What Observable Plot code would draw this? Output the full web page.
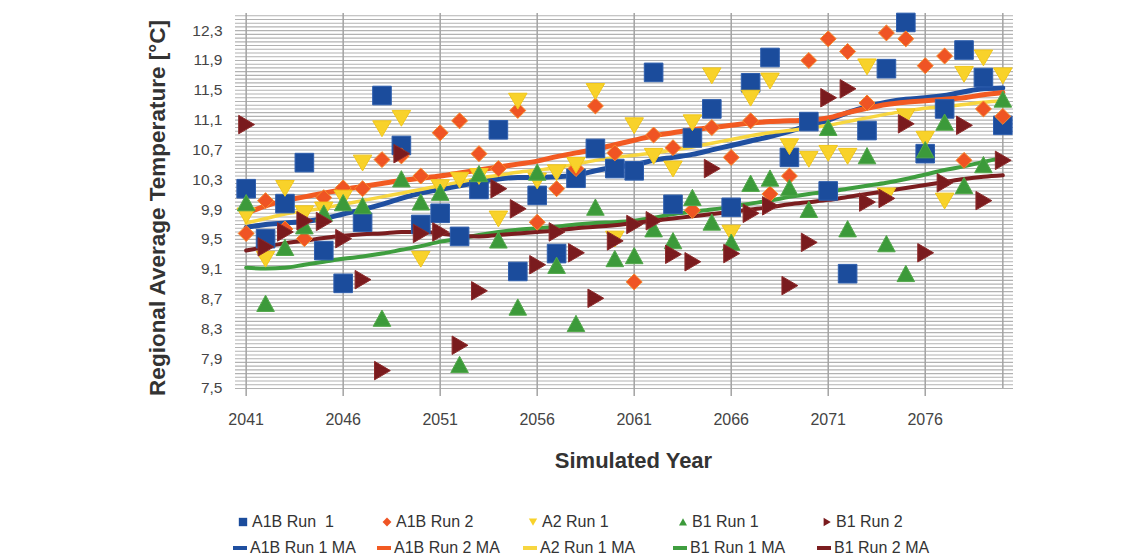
<!DOCTYPE html>
<html><head><meta charset="utf-8">
<script src="https://cdn.jsdelivr.net/npm/d3@7"></script>
<script src="https://cdn.jsdelivr.net/npm/@observablehq/plot@0.6"></script>
<style>
body{margin:0;background:#fff;font-family:"Liberation Sans",Arial,sans-serif;}
#wrap{position:relative;width:1138px;height:559px;overflow:hidden;background:#fff}
#chart{position:absolute;left:0;top:0}
#legend{position:absolute;left:0;top:0;width:1138px;height:559px;pointer-events:none;font-size:16px;color:#333}
.item{position:absolute;display:flex;align-items:center;white-space:pre;height:20px}
.item svg{margin-right:2px}
</style></head><body><div id="wrap"><div id="chart"></div><div id="legend"></div></div>
<script>
const years = [2041,2042,2043,2044,2045,2046,2047,2048,2049,2050,2051,2052,2053,2054,2055,2056,2057,2058,2059,2060,2061,2062,2063,2064,2065,2066,2067,2068,2069,2070,2071,2072,2073,2074,2075,2076,2077,2078,2079,2080];
const xTickYears = [2041,2046,2051,2056,2061,2066,2071,2076];
const yTickValues = [7.5,7.9,8.3,8.7,9.1,9.5,9.9,10.3,10.7,11.1,11.5,11.9,12.3];

const a1bRun1 = [10.18,9.51,9.98,10.53,9.35,8.91,9.73,11.43,10.76,9.70,9.85,9.54,10.17,10.97,9.07,10.09,9.31,10.32,10.72,10.45,10.42,11.74,9.97,10.86,11.25,9.93,11.60,11.94,10.60,11.08,10.15,9.04,10.96,11.79,12.41,10.65,11.25,12.04,11.67,11.03];
const a1bRun2 = [9.58,10.02,9.64,9.51,10.06,10.19,10.18,10.57,10.62,10.35,10.93,11.09,10.65,10.45,11.23,9.73,10.18,10.45,11.29,10.66,8.93,10.9,10.73,9.89,11.0,10.6,11.09,10.11,10.35,11.9,12.19,12.02,11.33,12.27,12.19,11.83,11.96,10.56,11.25,11.15];
const a2Run1 = [9.82,9.24,10.19,9.85,9.9,10.06,10.53,10.99,11.13,9.24,10.2,10.3,10.35,9.78,11.36,10.29,10.4,10.5,11.49,9.51,11.03,10.62,10.45,11.07,11.7,9.59,11.4,11.63,10.75,10.58,10.66,10.62,11.82,10.09,11.15,10.85,10.02,11.72,11.94,11.7];
const b1Run1 = [9.99,8.64,9.39,9.68,9.85,9.99,9.95,8.44,10.31,10.0,10.13,7.82,10.38,9.49,8.59,10.4,9.15,8.37,9.93,9.24,9.28,9.64,9.48,10.06,9.73,9.46,10.25,10.32,10.19,9.9,11.0,9.64,10.62,9.44,9.04,10.7,11.07,10.22,10.5,11.38];
const b1Run2 = [11.04,9.4,9.6,9.75,9.74,9.51,8.96,7.74,10.65,9.58,9.6,8.08,8.81,10.18,9.91,9.16,9.6,9.32,8.71,9.48,9.7,9.75,9.3,9.2,10.45,9.31,9.85,9.95,8.88,9.46,11.4,11.52,10.0,10.05,11.05,9.32,10.26,11.03,10.02,10.56];

const a1bRun1MA = [9.66,9.70,9.72,9.74,9.78,9.84,9.90,9.97,10.05,10.12,10.17,10.22,10.27,10.31,10.33,10.33,10.34,10.36,10.42,10.47,10.50,10.56,10.60,10.64,10.70,10.76,10.82,10.88,10.95,11.03,11.10,11.20,11.28,11.34,11.38,11.40,11.43,11.48,11.52,11.53];
const a1bRun2MA = [9.85,9.95,10.02,10.07,10.12,10.17,10.21,10.25,10.29,10.32,10.35,10.39,10.43,10.47,10.51,10.55,10.61,10.66,10.71,10.77,10.83,10.89,10.93,10.97,11.0,11.03,11.06,11.08,11.09,11.1,11.13,11.2,11.26,11.31,11.34,11.36,11.38,11.4,11.44,11.47];
const a2Run1MA = [9.72,9.78,9.84,9.88,9.92,9.97,10.02,10.07,10.12,10.17,10.22,10.27,10.32,10.36,10.4,10.43,10.46,10.51,10.56,10.6,10.63,10.66,10.7,10.74,10.79,10.84,10.89,10.93,10.96,10.99,11.03,11.08,11.13,11.18,11.22,11.26,11.28,11.31,11.34,11.36];
const b1Run1MA = [9.12,9.11,9.12,9.16,9.2,9.24,9.27,9.31,9.36,9.41,9.47,9.51,9.56,9.6,9.63,9.65,9.67,9.7,9.72,9.73,9.75,9.79,9.84,9.87,9.9,9.94,9.98,10.02,10.07,10.11,10.14,10.18,10.22,10.26,10.31,10.37,10.43,10.48,10.54,10.59];
const b1Run2MA = [9.35,9.4,9.45,9.48,9.52,9.55,9.57,9.58,9.6,9.6,9.58,9.55,9.54,9.56,9.58,9.6,9.62,9.65,9.67,9.69,9.72,9.75,9.78,9.81,9.84,9.87,9.9,9.93,9.97,10.0,10.03,10.07,10.11,10.15,10.19,10.23,10.27,10.31,10.34,10.36];

// custom marker shapes (d3 symbol-type objects)
const triDown = {draw(c, size){const r=Math.sqrt(size/Math.PI);c.moveTo(-1.05*r,-0.85*r);c.lineTo(1.05*r,-0.85*r);c.lineTo(0,0.95*r);c.closePath();}};
const triUp = {draw(c, size){const r=Math.sqrt(size/Math.PI);c.moveTo(-1.0*r,0.9*r);c.lineTo(1.0*r,0.9*r);c.lineTo(0,-0.95*r);c.closePath();}};
const triRight = {draw(c, size){const r=Math.sqrt(size/Math.PI);c.moveTo(-0.85*r,-1.05*r);c.lineTo(-0.85*r,1.05*r);c.lineTo(0.95*r,0);c.closePath();}};

const pointSeries = [
  {name:"A1B Run  1", values:a1bRun1, fill:"#1b4c9c", stroke:"#2f5fae", symbol:"square", r:10.5},
  {name:"A1B Run 2", values:a1bRun2, fill:"#ef5424", stroke:"#f78a2a", symbol:"diamond2", r:7.2},
  {name:"A2 Run 1", values:a2Run1, fill:"#f8d22a", stroke:"#f2c71a", symbol:triDown, r:8.8},
  {name:"B1 Run 1", values:b1Run1, fill:"#3c9a3a", stroke:"#52a84a", symbol:triUp, r:8.8},
  {name:"B1 Run 2", values:b1Run2, fill:"#7a1b1e", stroke:"#8c2a2a", symbol:triRight, r:8.8}
];
const maSeries = [
  {name:"A1B Run 1 MA", values:a1bRun1MA, stroke:"#1f4fa0", width:5},
  {name:"A1B Run 2 MA", values:a1bRun2MA, stroke:"#f25a22", width:5},
  {name:"A2 Run 1 MA", values:a2Run1MA, stroke:"#f7d640", width:3.5},
  {name:"B1 Run 1 MA", values:b1Run1MA, stroke:"#3f9e3f", width:4},
  {name:"B1 Run 2 MA", values:b1Run2MA, stroke:"#7b1d1f", width:4}
];
const toRows = s => years.map((yr,i)=>({year:yr, value:s.values[i], series:s.name}));

const gridY = d3.range(7.5, 12.5001, 0.05);
const marks = [
  Plot.ruleY(gridY, {stroke:"#b2b2b2", strokeWidth:1.1}),
  Plot.ruleX(xTickYears.concat([2080]), {stroke:"#a3a3a3", strokeWidth:1.5}),
  Plot.axisX(xTickYears, {tickSize:8, tickPadding:17, stroke:"#a3a3a3", strokeWidth:1.5, fill:"#444", fontSize:16, fontFamily:"'Liberation Sans Narrow','Arial Narrow',sans-serif", tickFormat:d=>String(d), label:null}),
  Plot.axisY(yTickValues, {tickSize:0, tickPadding:13, fill:"#444", fontSize:15.5, tickFormat:d=>d.toFixed(1).replace(".",","), label:null}),
  ...maSeries.map(s => Plot.line(toRows(s), {x:"year", y:"value", stroke:s.stroke, strokeWidth:s.width, curve:"monotone-x"})),
  ...pointSeries.map(s => Plot.dot(toRows(s), {x:"year", y:"value", symbol:s.symbol, r:s.r, fill:s.fill, stroke:s.stroke, strokeWidth:1})),
  Plot.text(["Regional Average Temperature [°C]"], {frameAnchor:"left", textAnchor:"middle", lineAnchor:"middle", dx:-78, dy:7, rotate:-90, fontSize:22.5, fontWeight:"bold", fill:"#333"}),
  Plot.text(["Simulated Year"], {frameAnchor:"bottom", textAnchor:"middle", lineAnchor:"middle", dx:9, dy:72, fontSize:22, fontWeight:"bold", fill:"#333"})
];

const chart = Plot.plot({
  width:1138, height:480,
  marginTop:13, marginBottom:92, marginLeft:235, marginRight:125,
  style:{fontFamily:"'Liberation Sans',Arial,sans-serif", background:"#fff", overflow:"visible"},
  x:{domain:[2040.45, 2080.55]},
  y:{domain:[7.5, 12.53]},
  marks
});
document.getElementById("chart").appendChild(chart);

// legend
const legend = document.getElementById("legend");
const colLeft = [236, 380, 526, 676, 820];
function markerSvg(s){
  const ns="http://www.w3.org/2000/svg";
  const svg=document.createElementNS(ns,"svg");svg.setAttribute("width",14);svg.setAttribute("height",14);
  const p=document.createElementNS(ns,"path");
  const type = typeof s.symbol==="string" ? (s.symbol==="square"?d3.symbolSquare:d3.symbolDiamond2) : s.symbol;
  p.setAttribute("d", d3.symbol(type, s.symbol==="square"?70:50)());
  p.setAttribute("transform","translate(7,7)");
  p.setAttribute("fill",s.fill);
  svg.appendChild(p);return svg;
}
function lineSvg(s){
  const ns="http://www.w3.org/2000/svg";
  const svg=document.createElementNS(ns,"svg");svg.setAttribute("width",16);svg.setAttribute("height",14);
  const l=document.createElementNS(ns,"line");
  l.setAttribute("x1",1);l.setAttribute("x2",15);l.setAttribute("y1",7);l.setAttribute("y2",7);
  l.setAttribute("stroke",s.stroke);l.setAttribute("stroke-width",4);
  svg.appendChild(l);return svg;
}
pointSeries.forEach((s,i)=>{
  const d=document.createElement("div");d.className="item";
  d.style.left=colLeft[i]+"px";d.style.top="512px";
  d.appendChild(markerSvg(s));d.appendChild(document.createTextNode(s.name));legend.appendChild(d);
});
maSeries.forEach((s,i)=>{
  const d=document.createElement("div");d.className="item";
  d.style.left=(colLeft[i]-4)+"px";d.style.top="538px";
  d.appendChild(lineSvg(s));d.appendChild(document.createTextNode(s.name));legend.appendChild(d);
});
</script></body></html>
